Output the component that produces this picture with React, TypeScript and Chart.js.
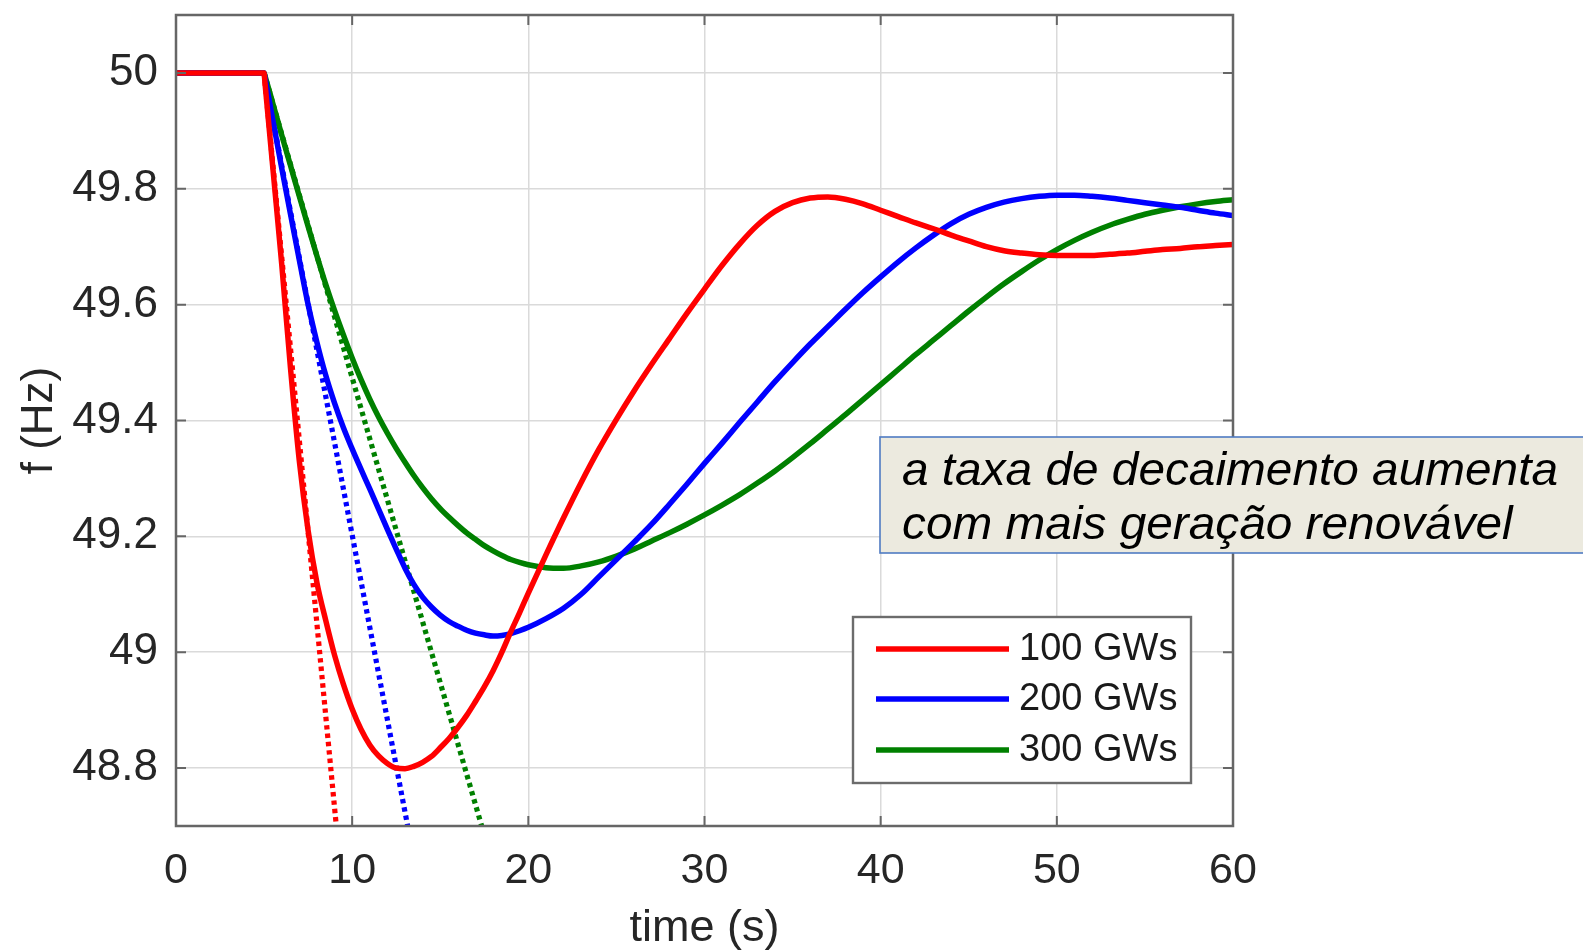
import React, { useEffect, useRef } from "react";
import { Chart, registerables } from "chart.js";

Chart.register(...registerables);

// ---------------- data ----------------
const TIME = [
  0, 5, 5.05, 5.5, 6, 6.5, 7, 7.5, 8, 8.5, 9, 9.5, 10, 10.5, 11, 11.5, 12, 12.5, 13, 13.5, 14, 14.5,
  15, 15.5, 16, 16.5, 17, 17.5, 18, 18.5, 19, 19.5, 20, 21, 22, 23, 24, 25, 26, 27, 28, 29, 30, 31,
  32, 33, 34, 35, 36, 37, 38, 39, 40, 41, 42, 43, 44, 45, 46, 47, 48, 49, 50, 51, 52, 53, 54, 55,
  56, 57, 58, 59, 60,
];

const F_100 = [
  50, 50, 49.983, 49.835, 49.67, 49.49, 49.33, 49.21, 49.12, 49.055, 48.995, 48.945, 48.902, 48.867,
  48.84, 48.821, 48.808, 48.8, 48.799, 48.803, 48.81, 48.82, 48.835, 48.851, 48.87, 48.891, 48.915,
  48.94, 48.968, 49.0, 49.035, 49.068, 49.102, 49.168, 49.232, 49.293, 49.35, 49.402, 49.451,
  49.497, 49.541, 49.585, 49.627, 49.668, 49.705, 49.737, 49.761, 49.776, 49.784, 49.786, 49.782,
  49.774, 49.763, 49.752, 49.741, 49.731, 49.72, 49.71, 49.7, 49.693, 49.689, 49.686, 49.685,
  49.685, 49.685, 49.687, 49.689, 49.692, 49.695, 49.697, 49.7, 49.702, 49.704,
];

const F_200 = [
  50, 50, 49.992, 49.918, 49.836, 49.756, 49.677, 49.6, 49.535, 49.478, 49.43, 49.388, 49.351,
  49.316, 49.282, 49.247, 49.212, 49.178, 49.145, 49.117, 49.095, 49.078, 49.064, 49.053, 49.045,
  49.038, 49.033, 49.03, 49.028, 49.029, 49.032, 49.037, 49.043, 49.058, 49.076, 49.1, 49.13,
  49.16, 49.19, 49.221, 49.255, 49.29, 49.326, 49.361, 49.397, 49.432, 49.467, 49.5, 49.532,
  49.562, 49.592, 49.621, 49.648, 49.674, 49.698, 49.72, 49.74, 49.756, 49.768, 49.777, 49.783,
  49.787, 49.789, 49.789, 49.787, 49.784, 49.78, 49.776, 49.772, 49.768, 49.763, 49.758, 49.754,
];

const F_300 = [
  50, 50, 49.995, 49.947, 49.893, 49.84, 49.787, 49.735, 49.684, 49.635, 49.59, 49.548, 49.508,
  49.471, 49.437, 49.406, 49.378, 49.352, 49.328, 49.305, 49.284, 49.265, 49.248, 49.233, 49.219,
  49.206, 49.195, 49.184, 49.175, 49.167, 49.16, 49.155, 49.151, 49.146, 49.145, 49.149, 49.156,
  49.166, 49.178, 49.192, 49.206, 49.221, 49.237, 49.254, 49.272, 49.292, 49.313, 49.336, 49.36,
  49.385, 49.41, 49.436, 49.462, 49.488, 49.514, 49.539, 49.564, 49.589, 49.613, 49.636, 49.657,
  49.677, 49.695, 49.711, 49.725, 49.737, 49.747, 49.756, 49.763, 49.769, 49.774, 49.778, 49.781,
];

// initial-slope (RoCoF) tangent lines, dotted
const TANGENT_F = [50, 48.7];
const TANGENT_T_100 = [5, 9.1];
const TANGENT_T_200 = [5, 13.15];
const TANGENT_T_300 = [5, 17.35];

const SERIES_LABELS = ["100 GWs", "200 GWs", "300 GWs"];
const SERIES_COLORS = ["#ff0000", "#0000ff", "#008000"];

const X_TICKS = [0, 10, 20, 30, 40, 50, 60];
const Y_TICKS = [48.8, 49, 49.2, 49.4, 49.6, 49.8, 50];
const X_TITLE = "time (s)";
const Y_TITLE = "f (Hz)";
const NOTE_LINES = ["a taxa de decaimento aumenta", "com mais geração renovável"];

// ---------------- helpers ----------------
const FONT = '"Liberation Sans", Arial, Helvetica, sans-serif';
const TEXT_COLOR = "#262626";
const AXIS_COLOR = "#666666";

const pts = (ts: number[], vs: number[]) => ts.map((t, i) => ({ x: t, y: vs[i] }));

const framePlugin = {
  id: "matlabFrame",
  afterDraw(chart: any) {
    const { ctx, chartArea, scales } = chart;
    const { left, right, top, bottom } = chartArea;
    const xs = scales.x;
    const ys = scales.y;
    ctx.save();
    // inward ticks
    ctx.strokeStyle = AXIS_COLOR;
    ctx.lineWidth = 2;
    ctx.beginPath();
    for (const t of X_TICKS) {
      const px = xs.getPixelForValue(t);
      ctx.moveTo(px, bottom);
      ctx.lineTo(px, bottom - 10);
      ctx.moveTo(px, top);
      ctx.lineTo(px, top + 10);
    }
    for (const v of Y_TICKS) {
      const py = ys.getPixelForValue(v);
      ctx.moveTo(left, py);
      ctx.lineTo(left + 10, py);
      ctx.moveTo(right, py);
      ctx.lineTo(right - 10, py);
    }
    ctx.stroke();
    // box
    ctx.lineWidth = 2.5;
    ctx.strokeRect(left, top, right - left, bottom - top);

    // legend (solid series only)
    const lgX = 853, lgY = 617, lgW = 338, lgH = 166;
    ctx.fillStyle = "#ffffff";
    ctx.fillRect(lgX, lgY, lgW, lgH);
    ctx.strokeStyle = "#6c6c6c";
    ctx.lineWidth = 2.4;
    ctx.strokeRect(lgX, lgY, lgW, lgH);
    const rowsY = [649, 699, 750];
    chart.data.datasets.slice(0, 3).forEach((ds: any, i: number) => {
      const y = rowsY[i];
      ctx.strokeStyle = ds.borderColor;
      ctx.lineWidth = 5.5;
      ctx.setLineDash([]);
      ctx.beginPath();
      ctx.moveTo(876, y);
      ctx.lineTo(1009, y);
      ctx.stroke();
      ctx.fillStyle = "#1a1a1a";
      ctx.font = `38px ${FONT}`;
      ctx.textBaseline = "middle";
      ctx.textAlign = "left";
      ctx.fillText(ds.label, 1019, y + 1);
    });

    // annotation box
    ctx.fillStyle = "#eceadf";
    ctx.fillRect(880, 437, 760, 116);
    ctx.strokeStyle = "#4f7bc2";
    ctx.lineWidth = 1.6;
    ctx.strokeRect(880, 437, 760, 116);
    ctx.fillStyle = "#000000";
    ctx.font = `italic 46px ${FONT}`;
    ctx.textBaseline = "alphabetic";
    ctx.textAlign = "left";
    const w0 = ctx.measureText(NOTE_LINES[0]).width;
    const sx = 656 / w0;
    const baselines = [485, 539];
    NOTE_LINES.forEach((line, i) => {
      ctx.save();
      ctx.translate(902, baselines[i]);
      ctx.scale(sx, 1);
      ctx.fillText(line, 0, 0);
      ctx.restore();
    });
    ctx.restore();
  },
};

export default function App() {
  const canvasRef = useRef<HTMLCanvasElement | null>(null);

  useEffect(() => {
    document.body.style.margin = "0";
    const canvas = canvasRef.current;
    if (!canvas) return;

    const solid = (label: string, vs: number[], color: string) => ({
      label,
      data: pts(TIME, vs),
      borderColor: color,
      backgroundColor: color,
      borderWidth: 5.5,
      pointRadius: 0,
      fill: false,
      cubicInterpolationMode: "monotone",
      borderJoinStyle: "round",
    });
    const dotted = (ts: number[], color: string) => ({
      label: "",
      data: pts(ts, TANGENT_F),
      borderColor: color,
      backgroundColor: color,
      borderWidth: 5.2,
      borderDash: [4.4, 4],
      borderCapStyle: "butt",
      pointRadius: 0,
      fill: false,
      tension: 0,
    });

    const chart = new Chart(canvas, {
      type: "line",
      data: {
        datasets: [
          solid(SERIES_LABELS[0], F_100, SERIES_COLORS[0]),
          solid(SERIES_LABELS[1], F_200, SERIES_COLORS[1]),
          solid(SERIES_LABELS[2], F_300, SERIES_COLORS[2]),
          dotted(TANGENT_T_100, SERIES_COLORS[0]),
          dotted(TANGENT_T_200, SERIES_COLORS[1]),
          dotted(TANGENT_T_300, SERIES_COLORS[2]),
        ] as any,
      },
      options: {
        responsive: true,
        maintainAspectRatio: false,
        animation: false,
        layout: { padding: { top: 15, right: 350, bottom: 0, left: 0 } },
        plugins: { legend: { display: false }, tooltip: { enabled: false } },
        scales: {
          x: {
            type: "linear",
            min: 0,
            max: 60,
            afterBuildTicks: (s: any) => {
              s.ticks = X_TICKS.map((v) => ({ value: v }));
            },
            afterFit: (s: any) => {
              s.height = 125;
              s.paddingLeft = 0;
              s.paddingRight = 0;
            },
            ticks: {
              font: { family: FONT, size: 43, lineHeight: 1.2 },
              color: TEXT_COLOR,
              padding: 19,
              maxRotation: 0,
              autoSkip: false,
              callback: (v: any) => String(v),
            },
            grid: { color: "#dadada", lineWidth: 1.5, drawTicks: false },
            border: { display: false },
            title: {
              display: true,
              text: X_TITLE,
              font: { family: FONT, size: 45, lineHeight: 1 },
              color: TEXT_COLOR,
              padding: { top: 0, bottom: 0 },
            },
          },
          y: {
            type: "linear",
            min: 48.7,
            max: 50.1,
            afterBuildTicks: (s: any) => {
              s.ticks = Y_TICKS.map((v) => ({ value: v }));
            },
            afterFit: (s: any) => {
              s.width = 176;
              s.paddingTop = 0;
              s.paddingBottom = 0;
            },
            ticks: {
              font: { family: FONT, size: 44, lineHeight: 1.2 },
              color: TEXT_COLOR,
              padding: 18,
              autoSkip: false,
              callback: (v: any) => String(parseFloat(Number(v).toFixed(1))),
            },
            grid: { color: "#dadada", lineWidth: 1.5, drawTicks: false },
            border: { display: false },
            title: {
              display: true,
              text: Y_TITLE,
              font: { family: FONT, size: 44, lineHeight: 1 },
              color: TEXT_COLOR,
              padding: { top: 18, bottom: 0 },
            },
          },
        },
      } as any,
      plugins: [framePlugin],
    });

    return () => chart.destroy();
  }, []);

  return (
    <div style={{ position: "absolute", left: 0, top: 0, width: 1583, height: 951 }}>
      <canvas ref={canvasRef} />
    </div>
  );
}
